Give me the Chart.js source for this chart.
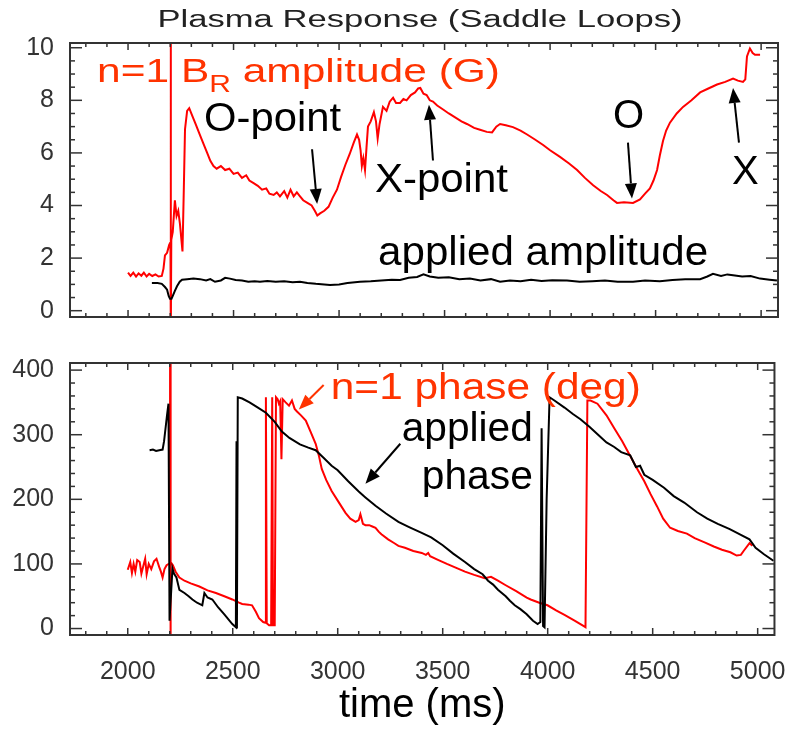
<!DOCTYPE html>
<html>
<head>
<meta charset="utf-8">
<script src="https://cdn.jsdelivr.net/npm/chart.js@4.4.1/dist/chart.umd.min.js"></script>
<style>
  html, body { margin: 0; padding: 0; background: #fff; }
  #wrap { position: relative; width: 800px; height: 730px; }
  #top { position: absolute; left: 0; top: 0; }
  #bottom { position: absolute; left: 0; top: 340px; }
</style>
</head>
<body>
<div id="wrap">
  <canvas id="top" width="800" height="340" style="width:800px;height:340px"></canvas>
  <canvas id="bottom" width="800" height="390" style="width:800px;height:390px"></canvas>
</div>
<script>
// ---------- data ----------
const xTicks = [2000, 2500, 3000, 3500, 4000, 4500, 5000];
const ampTicks = [0, 2, 4, 6, 8, 10];
const phaseTicks = [0, 100, 200, 300, 400];

// n=1 B_R amplitude (G), plasma response
const ampTime = [2000,2012,2025,2038,2050,2063,2075,2088,2100,2115,2130,2145,2160,2168,2175,2185,2195,2201,2202,2203.5,2205,2212,2222,2230,2238,2246,2258,2264,2270,2280,2290,2305,2320,2340,2360,2375,2390,2405,2420,2440,2460,2480,2500,2520,2540,2560,2575,2595,2615,2635,2655,2670,2690,2705,2720,2740,2755,2770,2785,2800,2815,2830,2850,2870,2885,2897,2910,2930,2950,2970,2990,3010,3030,3050,3070,3085,3095,3102,3108,3115,3123,3130,3137,3150,3165,3175,3183,3192,3208,3225,3240,3256,3270,3289,3305,3320,3340,3360,3375,3385,3400,3415,3430,3445,3465,3493,3520,3550,3580,3606,3640,3668,3700,3725,3745,3763,3790,3824,3860,3891,3930,3967,4000,4047,4090,4128,4165,4204,4240,4270,4300,4317,4350,4393,4426,4450,4473,4490,4507,4520,4535,4550,4568,4600,4630,4670,4711,4750,4791,4830,4867,4890,4914,4925,4933,4947,4960,4971,4995];
const ampPlasma = [1.45,1.32,1.45,1.3,1.42,1.33,1.45,1.3,1.4,1.32,1.38,1.3,1.32,1.6,2.1,2.2,2.5,2.6,12,-1,2.7,3.0,4.2,3.6,3.8,3.3,2.25,4.5,6.9,7.6,7.7,7.4,7.1,6.7,6.3,6.0,5.7,5.5,5.4,5.5,5.35,5.4,5.2,5.25,5.05,5.15,4.95,4.85,4.75,4.6,4.65,4.45,4.4,4.5,4.35,4.55,4.3,4.6,4.35,4.5,4.35,4.2,4.1,4.0,3.8,3.62,3.7,3.8,3.95,4.3,4.6,5.1,5.55,5.95,6.4,6.7,6.5,6.1,5.5,5.8,5.35,6.2,7.0,7.2,7.55,7.2,6.55,7.1,7.75,7.6,7.95,8.1,7.9,7.9,8.05,8.0,8.2,8.3,8.45,8.47,8.25,8.2,8.0,7.95,7.8,7.65,7.5,7.35,7.2,7.1,6.95,6.88,6.8,6.78,7.0,7.1,7.05,6.98,6.85,6.7,6.5,6.3,6.1,5.85,5.6,5.35,5.05,4.77,4.55,4.4,4.2,4.1,4.12,4.1,4.23,4.45,4.65,4.95,5.35,5.9,6.45,6.85,7.15,7.5,7.75,8.0,8.3,8.45,8.6,8.7,8.83,8.75,8.7,8.8,9.67,9.97,9.8,9.73,9.73];

// applied amplitude (G)
const appAmpTime = [2113,2140,2160,2175,2185,2193,2199,2206,2213,2222,2232,2245,2256,2280,2310,2341,2370,2390,2412,2440,2460,2483,2510,2540,2570,2600,2625,2660,2700,2740,2780,2815,2850,2890,2930,2957,3000,3040,3099,3150,3200,3250,3289,3330,3370,3400,3430,3470,3520,3570,3620,3670,3720,3763,3810,3860,3910,3960,4010,4080,4140,4200,4260,4320,4393,4450,4520,4580,4640,4711,4745,4772,4810,4840,4867,4910,4950,4995,5040,5075];
const appAmp = [1.05,1.05,1.02,0.9,0.8,0.55,0.45,0.45,0.58,0.75,0.93,1.1,1.18,1.2,1.22,1.2,1.15,1.2,1.1,1.15,1.25,1.22,1.17,1.15,1.1,1.12,1.1,1.13,1.1,1.12,1.08,1.1,1.05,1.02,1.0,0.98,1.0,1.05,1.1,1.12,1.15,1.18,1.17,1.25,1.28,1.38,1.3,1.25,1.27,1.2,1.22,1.15,1.2,1.1,1.15,1.12,1.18,1.13,1.16,1.15,1.1,1.12,1.15,1.1,1.1,1.15,1.12,1.17,1.2,1.2,1.3,1.4,1.32,1.38,1.35,1.3,1.32,1.22,1.18,1.15];

// n=1 phase (deg), plasma response
const phaseTime = [2000,2012,2020,2028,2036,2045,2057,2065,2075,2083,2090,2100,2112,2125,2137,2150,2158,2166,2175,2185,2195,2201,2202,2203.5,2205,2215,2228,2246,2270,2300,2341,2380,2420,2460,2498,2530,2545,2575,2592,2610,2625,2645,2655,2658,2662,2673,2683,2688,2692,2700,2706,2714,2720,2726,2732,2738,2752,2768,2782,2795,2806,2825,2848,2870,2895,2910,2924,2945,2971,3000,3037,3060,3085,3100,3108,3120,3132,3150,3165,3180,3195,3208,3240,3270,3289,3320,3360,3400,3420,3431,3440,3480,3520,3570,3606,3650,3700,3730,3763,3800,3850,3900,3919,3960,3999,4040,4080,4130,4170,4180,4189,4204,4237,4280,4317,4355,4393,4430,4460,4490,4521,4550,4583,4620,4663,4700,4750,4791,4830,4870,4900,4920,4933,4961,4975];
const phasePlasma = [91,103,86,100,88,106,103,85,98,108,84,100,92,104,108,95,88,79,92,98,100,100,600,-50,103,98,88,79,74,70,65,59,55,50,45,40,38,37,36,26,16,10,9,358,8,5,5,358,5,5,358,355,348,352,262,355,350,345,353,340,336,330,322,305,286,268,247,230,213,198,179,170,165,168,177,162,160,160,158,156,150,146,138,132,128,125,120,117,114,117,112,106,100,93,88,83,78,80,74,67,58,48,45,40,36,28,21,12,4,2,353,353,348,330,310,290,267,245,228,208,189,170,156,151,147,140,133,127,122,118,113,114,120,132,128];

// applied phase (deg)
const appPhaseTime = [2104,2120,2135,2150,2166,2173,2180,2187,2194,2199,2213,2220,2232,2240,2246,2270,2290,2308,2330,2355,2365,2380,2403,2430,2460,2498,2515,2518,2520,2524,2545,2580,2620,2658,2700,2734,2770,2820,2860,2895,2930,2971,3000,3050,3100,3132,3180,3230,3289,3340,3400,3445,3500,3550,3606,3650,3690,3716,3740,3763,3800,3820,3843,3870,3900,3930,3952,3965,3971,3978,3985,3995,4009,4032,4080,4120,4156,4200,4240,4280,4317,4350,4393,4420,4440,4460,4500,4554,4600,4650,4711,4760,4810,4867,4920,4961,4990,5030,5075];
const appPhase = [276,277,275,276,277,290,310,330,348,12,93,85,79,68,60,55,50,45,40,36,55,48,45,33,22,7,2,290,0,358,356,350,342,334,320,305,295,285,280,276,265,252,245,228,212,203,190,178,165,157,148,141,129,116,103,92,84,74,68,60,50,43,36,30,22,12,7,10,310,4,2,200,358,353,342,332,324,312,300,288,281,273,268,250,252,238,230,218,205,195,180,170,162,154,145,138,125,115,105];

// ---------- styling ----------
const FONT = '"Liberation Sans", Arial, Helvetica, sans-serif';
const RED = '#ff0000';
const RED_TXT = '#ff3300';
const INK = '#000000';
const AXIS = '#333333';

const pts = (xs, ys) => xs.map((t, i) => ({ x: t, y: ys[i] }));

// inward tick marks on all four sides plus the box, IDL style
const frameTicks = {
  id: 'frameTicks',
  afterDatasetsDraw(chart, args, opts) {
    const { ctx, chartArea: a, scales: { x, y } } = chart;
    ctx.save();
    ctx.strokeStyle = AXIS;
    ctx.lineWidth = 1.5;
    const seg = (x1, y1, x2, y2) => { ctx.beginPath(); ctx.moveTo(x1, y1); ctx.lineTo(x2, y2); ctx.stroke(); };
    for (let i = 0; ; i++) {
      const v = opts.xStart + i * opts.xMinor;
      if (v > x.max) break;
      const px = x.getPixelForValue(v);
      const len = v % opts.xMajor === 0 ? 7 : 4;
      seg(px, a.bottom, px, a.bottom - len);
      seg(px, a.top, px, a.top + len);
    }
    for (let i = 0; ; i++) {
      const v = opts.yStart + i * opts.yMinor;
      if (v > y.max) break;
      const py = y.getPixelForValue(v);
      const major = Math.abs(v / opts.yMajor - Math.round(v / opts.yMajor)) < 1e-6;
      const len = major ? 12 : 5;
      seg(a.left, py, a.left + len, py);
      seg(a.right, py, a.right - len, py);
    }
    ctx.lineWidth = 2;
    ctx.strokeRect(a.left, a.top, a.width, a.height);
    ctx.restore();
  }
};

function drawArrow(ctx, x1, y1, x2, y2, color) {
  const ang = Math.atan2(y2 - y1, x2 - x1), head = 15, half = 6;
  const bx = x2 - head * Math.cos(ang), by = y2 - head * Math.sin(ang);
  ctx.strokeStyle = color; ctx.fillStyle = color; ctx.lineWidth = 2;
  ctx.beginPath(); ctx.moveTo(x1, y1); ctx.lineTo(bx, by); ctx.stroke();
  ctx.beginPath();
  ctx.moveTo(x2, y2);
  ctx.lineTo(bx + half * Math.sin(ang), by - half * Math.cos(ang));
  ctx.lineTo(bx - half * Math.sin(ang), by + half * Math.cos(ang));
  ctx.closePath(); ctx.fill();
}

// text parts drawn with a horizontal stretch so they fill the given width
function drawParts(ctx, parts, x, y, width, color, align) {
  let natural = 0;
  parts.forEach(p => { ctx.font = p.size + 'px ' + FONT; natural += ctx.measureText(p.text).width; });
  const sx = width ? width / natural : 1;
  const total = natural * sx;
  const left = align === 'right' ? x - total : align === 'center' ? x - total / 2 : x;
  ctx.save();
  ctx.translate(left, y);
  ctx.scale(sx, 1);
  ctx.fillStyle = color;
  ctx.textBaseline = 'alphabetic';
  ctx.textAlign = 'left';
  let cx = 0;
  parts.forEach(p => {
    ctx.font = p.size + 'px ' + FONT;
    ctx.fillText(p.text, cx, p.dy || 0);
    cx += ctx.measureText(p.text).width;
  });
  ctx.restore();
}

const notes = {
  id: 'notes',
  afterDraw(chart, args, opts) {
    const { ctx, scales: { x, y } } = chart;
    ctx.save();
    (opts.arrows || []).forEach(a => {
      drawArrow(ctx, x.getPixelForValue(a.from[0]), y.getPixelForValue(a.from[1]),
        x.getPixelForValue(a.to[0]), y.getPixelForValue(a.to[1]), a.color);
    });
    (opts.labels || []).forEach(l => {
      drawParts(ctx, l.parts, x.getPixelForValue(l.at[0]), y.getPixelForValue(l.at[1]), l.width, l.color, l.align);
    });
    if (opts.title) drawParts(ctx, [{ text: opts.title, size: 23 }], 420, 27, 525, '#222', 'center');
    ctx.restore();
  }
};

const line = (label, data, color) => ({
  label, data, borderColor: color, borderWidth: 2, pointRadius: 0, tension: 0, clip: 0, parsing: false
});

const yAxis = (min, max, tickVals) => ({
  min, max,
  afterFit: s => { s.width = 70; },
  afterBuildTicks: s => { s.ticks = tickVals.map(v => ({ value: v })); },
  grid: { display: false },
  border: { display: false },
  ticks: { font: { family: FONT, size: 25 }, color: AXIS, padding: 8 }
});

// ---------- top panel: amplitude ----------
new Chart(document.getElementById('top'), {
  type: 'line',
  data: {
    datasets: [
      line('applied amplitude', pts(appAmpTime, appAmp), INK),
      line('n=1 BR amplitude (G)', pts(ampTime, ampPlasma), RED)
    ]
  },
  options: {
    responsive: false,
    animation: false,
    layout: { padding: { top: 43, right: 22, bottom: 7, left: 0 } },
    plugins: {
      legend: { display: false },
      tooltip: { enabled: false },
      frameTicks: { xStart: 1800, xMinor: 100, xMajor: 500, yStart: 0, yMinor: 0.5, yMajor: 2 },
      notes: {
        title: 'Plasma Response (Saddle Loops)',
        labels: [
          { parts: [{ text: 'n=1 B', size: 34 }, { text: 'R', size: 24, dy: 10 }, { text: ' amplitude (G)', size: 34 }],
            at: [1853, 8.69], width: 403, color: RED_TXT },
          { parts: [{ text: 'O-point', size: 40 }], at: [2360, 6.82], width: 137, color: INK },
          { parts: [{ text: 'X-point', size: 40 }], at: [3170, 4.52], width: 133, color: INK },
          { parts: [{ text: 'O', size: 40 }], at: [4298, 6.93], color: INK },
          { parts: [{ text: 'X', size: 40 }], at: [4862, 4.81], color: INK },
          { parts: [{ text: 'applied amplitude', size: 40 }], at: [3185, 1.72], width: 330, color: INK }
        ],
        arrows: [
          { from: [2872, 6.14], to: [2896, 4.06], color: INK },
          { from: [3445, 5.71], to: [3426, 7.83], color: INK },
          { from: [4369, 6.39], to: [4388, 4.27], color: INK },
          { from: [4895, 6.39], to: [4867, 8.47], color: INK }
        ]
      }
    },
    scales: {
      x: { type: 'linear', min: 1725, max: 5080, display: false },
      y: yAxis(-0.24, 10.18, ampTicks)
    }
  },
  plugins: [frameTicks, notes]
});

// ---------- bottom panel: phase ----------
new Chart(document.getElementById('bottom'), {
  type: 'line',
  data: {
    datasets: [
      line('applied phase', pts(appPhaseTime, appPhase), INK),
      line('n=1 phase (deg)', pts(phaseTime, phasePlasma), RED)
    ]
  },
  options: {
    responsive: false,
    animation: false,
    layout: { padding: { top: 3, right: 22, bottom: 0, left: 0 } },
    plugins: {
      legend: { display: false },
      tooltip: { enabled: false },
      frameTicks: { xStart: 1800, xMinor: 100, xMajor: 500, yStart: 0, yMinor: 20, yMajor: 100 },
      notes: {
        labels: [
          { parts: [{ text: 'n=1 phase (deg)', size: 37 }], at: [2967, 355], width: 310, color: RED_TXT },
          { parts: [{ text: 'applied', size: 40 }], at: [3929, 290], width: 131, color: INK, align: 'right' },
          { parts: [{ text: 'phase', size: 40 }], at: [3929, 216], width: 111, color: INK, align: 'right' }
        ],
        arrows: [
          { from: [2933, 377], to: [2815, 339], color: RED_TXT },
          { from: [3298, 286], to: [3132, 224], color: INK }
        ]
      }
    },
    scales: {
      x: {
        type: 'linear', min: 1725, max: 5080,
        afterFit: s => { s.height = 95; },
        afterBuildTicks: s => { s.ticks = xTicks.map(v => ({ value: v })); },
        grid: { display: false },
        border: { display: false },
        ticks: { font: { family: FONT, size: 25 }, color: AXIS, padding: 14, maxRotation: 0, callback: v => String(v) },
        title: { display: true, text: 'time (ms)', font: { family: FONT, size: 40 }, color: INK, padding: { top: 0, bottom: 0 } }
      },
      y: yAxis(-10, 411, phaseTicks)
    }
  },
  plugins: [frameTicks, notes]
});
</script>
</body>
</html>
